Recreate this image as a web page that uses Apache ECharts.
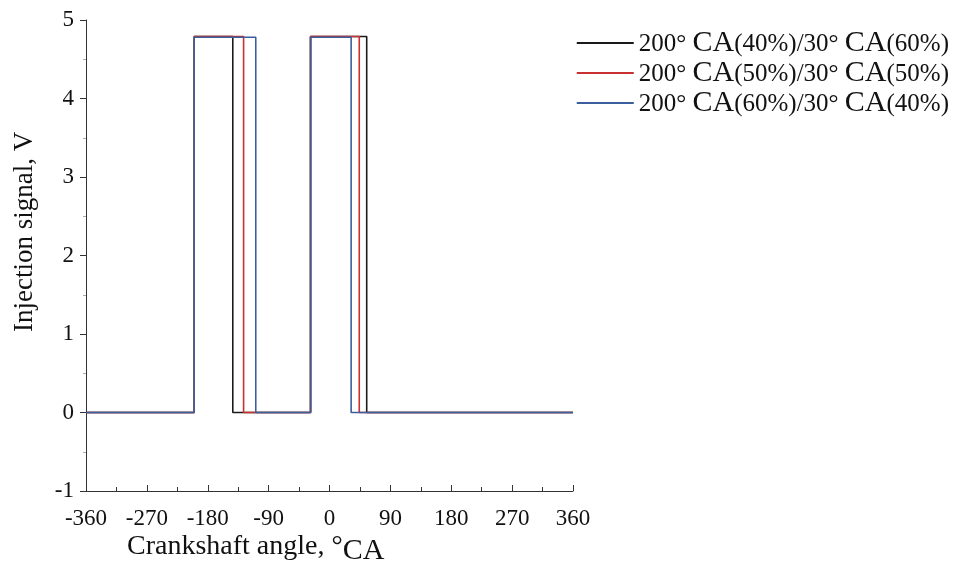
<!DOCTYPE html>
<html><head><meta charset="utf-8">
<script src="https://cdn.jsdelivr.net/npm/echarts@6/dist/echarts.min.js"></script>
<style>html,body{margin:0;padding:0;background:#fff}#c{width:953px;height:569px}</style>
</head><body><div id="c"></div>
<script>
const seriesNames = ['200° CA(40%)/30° CA(60%)','200° CA(50%)/30° CA(50%)','200° CA(60%)/30° CA(40%)'];
const colors = ['#1a1a1a','#c8312f','#3a5f9c'];
const pulse1Start = [-200,-200,-200];
const pulse1End = [-143,-127,-109];
const pulse2Start = [-28,-28,-28];
const pulse2End = [55,44,32];
const highLevel = [4.79,4.79,4.78];
const lowLevel = [0,0,0];

function buildData(i){
  const h=highLevel[i], l=lowLevel[i];
  return [[-360,l],[pulse1Start[i],l],[pulse1Start[i],h],[pulse1End[i],h],[pulse1End[i],l],
          [pulse2Start[i],l],[pulse2Start[i],h],[pulse2End[i],h],[pulse2End[i],l],[360,l]];
}
const font='Liberation Serif';
const chart=echarts.init(document.getElementById('c'));
chart.setOption({
  animation:false,
  grid:{left:86,right:380,top:20,bottom:78},
  legend:{
    right:4, top:28, orient:'vertical', itemWidth:57, itemHeight:2, itemGap:0, padding:0,
    icon:'rect',
    data:seriesNames,
    formatter:function(n){
      const m=n.match(/^(\d+°) CA(\([^)]*\)\/\d+°) CA(\([^)]*\))$/);
      return '{a|'+m[1]+' }{b|CA}{a|'+m[2]+' }{b|CA}{a|'+m[3]+'}';
    },
    textStyle:{rich:{
      a:{fontFamily:font,fontSize:25,color:'#111',lineHeight:30,padding:[2,0,0,0]},
      b:{fontFamily:font,fontSize:30,color:'#111',lineHeight:30}
    }}
  },
  xAxis:{type:'value',min:-360,max:360,interval:90,
    axisLine:{onZero:false,lineStyle:{color:'#333',width:1}},
    axisTick:{inside:true,length:6,lineStyle:{color:'#333'}},
    minorTick:{show:true,splitNumber:2,length:4,lineStyle:{color:'#333'}},
    splitLine:{show:false},
    axisLabel:{fontFamily:font,fontSize:23,color:'#111',margin:16}
  },
  yAxis:{type:'value',min:-1,max:5,interval:1,
    axisLine:{show:true,onZero:false,lineStyle:{color:'#333',width:1}},
    axisTick:{show:true,length:6,lineStyle:{color:'#333'}},
    minorTick:{show:true,splitNumber:2,length:3,lineStyle:{color:'#aaa'}},
    splitLine:{show:false},
    axisLabel:{fontFamily:font,fontSize:23,color:'#111',margin:12}
  },
  graphic:[
    {type:'text',left:127,top:533,style:{
      text:'{a|Crankshaft angle, °}{b|CA}',
      rich:{a:{fontFamily:font,fontSize:28,fill:'#111'},b:{fontFamily:font,fontSize:30,fill:'#111',padding:[8,0,0,0]}}
    }},
    {type:'text',x:11,y:332,rotation:Math.PI/2,style:{
      text:'Injection signal, V',fontFamily:font,fontSize:27,fill:'#111'
    }}
  ],
  series:seriesNames.map((n,i)=>({
    name:n,type:'line',data:buildData(i),showSymbol:false,symbol:'none',
    lineStyle:{color:colors[i],width:1.6},itemStyle:{color:colors[i]},z:2+i
  }))
});
</script></body></html>
